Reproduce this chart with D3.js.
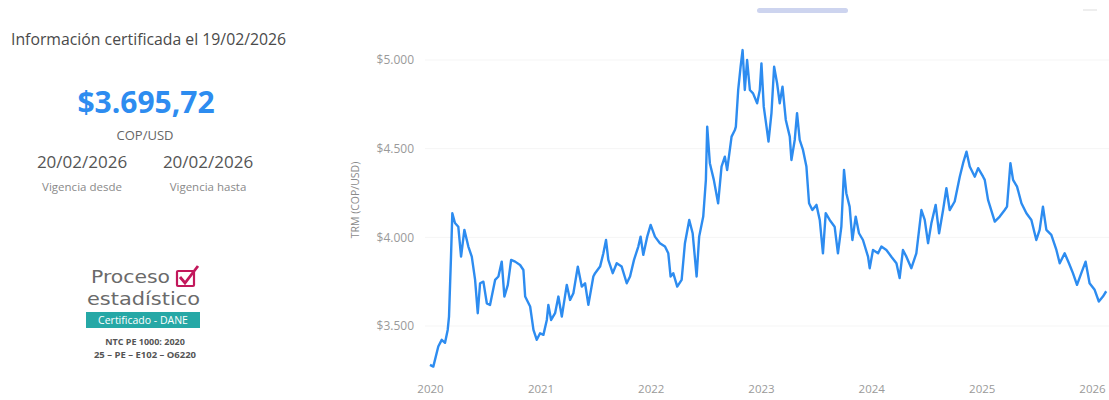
<!DOCTYPE html>
<html><head><meta charset="utf-8">
<script src="https://cdn.jsdelivr.net/npm/d3@7"></script>
<style>
html,body{margin:0;padding:0;background:#fff;}
svg{display:block;font-family:"Open Sans","Noto Sans",sans-serif;}
</style></head>
<body><svg id="c" width="1109" height="400"></svg>
<script>
// ---- data (decimal year, TRM COP/USD) ----
const yearPos = [2020.000,2020.030,2020.075,2020.106,2020.136,2020.160,2020.172,2020.190,2020.202,2020.226,2020.256,2020.281,2020.311,2020.347,2020.378,2020.408,2020.432,2020.453,2020.483,2020.514,2020.543,2020.589,2020.619,2020.649,2020.673,2020.704,2020.734,2020.770,2020.815,2020.845,2020.861,2020.906,2020.936,2020.966,2020.996,2021.026,2021.057,2021.071,2021.096,2021.132,2021.162,2021.193,2021.238,2021.268,2021.298,2021.338,2021.374,2021.404,2021.434,2021.479,2021.495,2021.540,2021.570,2021.594,2021.615,2021.655,2021.691,2021.736,2021.782,2021.812,2021.848,2021.887,2021.908,2021.932,2021.968,2021.999,2022.038,2022.083,2022.129,2022.159,2022.180,2022.204,2022.240,2022.280,2022.310,2022.349,2022.380,2022.416,2022.439,2022.476,2022.500,2022.512,2022.536,2022.572,2022.611,2022.642,2022.672,2022.693,2022.733,2022.763,2022.772,2022.793,2022.815,2022.833,2022.853,2022.874,2022.899,2022.928,2022.965,2022.989,2023.004,2023.025,2023.050,2023.068,2023.095,2023.119,2023.146,2023.170,2023.195,2023.225,2023.261,2023.276,2023.306,2023.327,2023.351,2023.381,2023.412,2023.436,2023.466,2023.503,2023.533,2023.562,2023.587,2023.623,2023.668,2023.698,2023.729,2023.753,2023.774,2023.804,2023.829,2023.859,2023.889,2023.925,2023.971,2023.986,2024.016,2024.062,2024.092,2024.137,2024.182,2024.228,2024.257,2024.287,2024.318,2024.363,2024.408,2024.454,2024.484,2024.514,2024.544,2024.583,2024.614,2024.650,2024.680,2024.710,2024.755,2024.801,2024.831,2024.862,2024.891,2024.937,2024.967,2025.012,2025.027,2025.057,2025.118,2025.163,2025.208,2025.229,2025.260,2025.284,2025.320,2025.360,2025.405,2025.450,2025.495,2025.525,2025.555,2025.586,2025.631,2025.677,2025.707,2025.752,2025.791,2025.827,2025.864,2025.903,2025.942,2025.978,2026.024,2026.062,2026.099,2026.129];
const trm = [3281,3271,3384,3422,3405,3478,3553,3891,4136,4081,4060,3891,4042,3948,3891,3760,3572,3741,3750,3628,3619,3760,3779,3863,3666,3732,3873,3863,3844,3816,3666,3610,3478,3422,3459,3450,3534,3619,3534,3572,3666,3553,3732,3647,3685,3835,3722,3741,3619,3779,3798,3835,3910,3985,3873,3798,3854,3835,3741,3779,3873,3948,4004,3901,4004,4070,4004,3967,3948,3910,3779,3798,3722,3760,3967,4098,4023,3779,4004,4117,4324,4624,4418,4324,4192,4399,4455,4380,4568,4605,4624,4831,4962,5056,4831,5000,4831,4812,4756,4831,4981,4737,4624,4540,4700,4962,4869,4756,4850,4662,4568,4436,4549,4700,4549,4493,4399,4192,4154,4183,4098,3910,4136,4098,4060,3910,4060,4380,4249,4173,3985,4117,4023,3985,3891,3826,3929,3910,3948,3929,3891,3854,3770,3929,3891,3826,3910,4154,4098,3967,4079,4183,4023,4154,4277,4154,4202,4342,4418,4483,4399,4342,4390,4342,4324,4211,4089,4117,4154,4173,4418,4324,4286,4192,4136,4098,3985,4042,4173,4042,4014,3929,3854,3910,3854,3798,3732,3798,3863,3741,3704,3638,3666,3696];
const yTicks = [3500, 4000, 4500, 5000];
const xTickYears = [2020, 2021, 2022, 2023, 2024, 2025, 2026];
const headerText = "Información certificada el 19/02/2026";
const currentValue = "$3.695,72";
const unitText = "COP/USD";
const fromDate = "20/02/2026", toDate = "20/02/2026";
const fromLabel = "Vigencia desde", toLabel = "Vigencia hasta";
const yAxisTitle = "TRM (COP/USD)";

function yearToDate(t){
  const y = Math.floor(t), f = t - y;
  const a = Date.UTC(y,0,1), b = Date.UTC(y+1,0,1);
  return new Date(a + f*(b-a));
}
const data = yearPos.map((t,i)=>({date: yearToDate(t), v: trm[i]}));

const svg = d3.select("#c");
const loc = d3.formatLocale({decimal:",", thousands:".", grouping:[3], currency:["$",""]});
const fmt = loc.format("$,.0f");

// ---- chart ----
const x = d3.scaleUtc().domain([yearToDate(2020), yearToDate(2026)]).range([430, 1092]);
const y = d3.scaleLinear().domain([3500, 5000]).range([326, 60]);

const g = svg.append("g");
g.append("g").selectAll("line").data(yTicks).join("line")
  .attr("x1", 425).attr("x2", 1109).attr("y1", d=>y(d)).attr("y2", d=>y(d))
  .attr("stroke", "#f5f5f5").attr("stroke-width", 1);

const yAxis = g.append("g").attr("transform","translate(414,0)")
  .call(d3.axisLeft(y).tickValues(yTicks).tickFormat(fmt).tickSize(0).tickPadding(0));
yAxis.select(".domain").remove();
yAxis.selectAll("text").attr("fill","#9a9a9a").style("font-size","12px").style("font-family","'Open Sans',sans-serif");

const xAxis = g.append("g").attr("transform","translate(0,385)")
  .call(d3.axisBottom(x).tickValues(xTickYears.map(yearToDate)).tickFormat(d3.utcFormat("%Y")).tickSize(0).tickPadding(0));
xAxis.select(".domain").remove();
xAxis.selectAll("text").attr("fill","#9a9a9a").style("font-size","11.5px").style("font-family","'Open Sans',sans-serif");

g.append("text").attr("transform","translate(359,200) rotate(-90)")
  .attr("text-anchor","middle").attr("fill","#8a8a8a").style("font-size","10.5px").text(yAxisTitle);

g.append("path").datum(data)
  .attr("fill","none").attr("stroke","#2d8cf0").attr("stroke-width",2.4)
  .attr("stroke-linejoin","round")
  .attr("d", d3.line().x(d=>x(d.date)).y(d=>y(d.v)));

// top tab indicator
svg.append("rect").attr("x",757).attr("y",8).attr("width",91).attr("height",5).attr("rx",2.5).attr("fill","#cdd4ef");
svg.append("rect").attr("x",1083).attr("y",9).attr("width",14).attr("height",2).attr("fill","#eeeeee");

// ---- left panel ----
const L = svg.append("g");
L.append("text").attr("x",11).attr("y",45).attr("fill","#4a4a4a").style("font-size","15.8px").text(headerText);
L.append("text").attr("x",146).attr("y",113).attr("text-anchor","middle").attr("fill","#2d8cf0")
  .style("font-size","30px").style("font-weight","700").text(currentValue);
L.append("text").attr("x",145).attr("y",140).attr("text-anchor","middle").attr("fill","#666")
  .style("font-size","13px").text(unitText);
L.append("text").attr("x",82).attr("y",168).attr("text-anchor","middle").attr("fill","#555")
  .style("font-size","17px").text(fromDate);
L.append("text").attr("x",208).attr("y",168).attr("text-anchor","middle").attr("fill","#555")
  .style("font-size","17px").text(toDate);
L.append("text").attr("x",82).attr("y",191).attr("text-anchor","middle").attr("fill","#8a8a8a")
  .style("font-size","11.5px").text(fromLabel);
L.append("text").attr("x",208).attr("y",191).attr("text-anchor","middle").attr("fill","#8a8a8a")
  .style("font-size","11.5px").text(toLabel);

// logo
L.append("text").attr("x",91).attr("y",283).attr("fill","#6a6a6a").style("font-family","'DejaVu Sans',sans-serif")
  .style("font-size","18px").attr("textLength",79).attr("lengthAdjust","spacingAndGlyphs").text("Proceso");
L.append("rect").attr("x",177).attr("y",271).attr("width",17).attr("height",15).attr("fill","none")
  .attr("stroke","#c2185b").attr("stroke-width",2.2).attr("rx",1);
L.append("path").attr("d","M180,277 L185,283 L198,266").attr("fill","none").attr("stroke","#c2185b").attr("stroke-width",2.8);
L.append("text").attr("x",87).attr("y",305).attr("fill","#6a6a6a").style("font-family","'DejaVu Sans',sans-serif")
  .style("font-size","18px").attr("textLength",113).attr("lengthAdjust","spacingAndGlyphs").text("estadístico");
L.append("rect").attr("x",86).attr("y",312).attr("width",114).attr("height",16).attr("fill","#26a8a6");
L.append("text").attr("x",143).attr("y",324).attr("text-anchor","middle").attr("fill","#fff").style("font-size","10.5px").text("Certificado - DANE");
L.append("text").attr("x",145).attr("y",345).attr("text-anchor","middle").attr("fill","#555").style("font-size","9px").style("font-weight","700").text("NTC PE 1000: 2020");
L.append("text").attr("x",145).attr("y",358).attr("text-anchor","middle").attr("fill","#555").style("font-size","9.5px").style("font-weight","700").text("25 – PE – E102 – O6220");
</script></body></html>
